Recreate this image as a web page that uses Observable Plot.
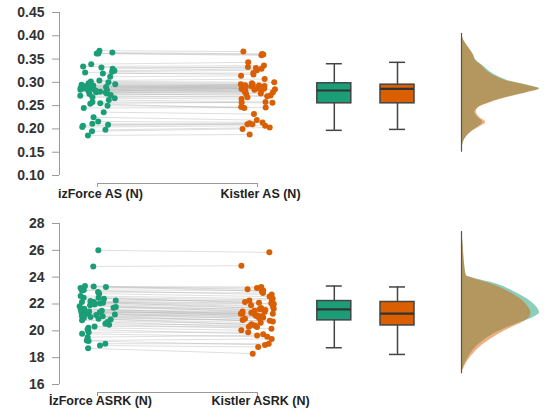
<!DOCTYPE html>
<html><head><meta charset="utf-8">
<script src="https://cdn.jsdelivr.net/npm/d3@7"></script>
<script src="https://cdn.jsdelivr.net/npm/@observablehq/plot@0.6"></script>
<style>html,body{margin:0;padding:0;background:#fff;} #chart svg{display:block;}</style>
</head><body><div id="chart"></div>
<script>
// ---------- DATA ----------
const labelsTop = ["izForce AS (N)", "Kistler AS (N)"];
const labelsBottom = ["İzForce ASRK (N)", "Kistler ASRK (N)"];
const ticksTop = [0.10, 0.15, 0.20, 0.25, 0.30, 0.35, 0.40, 0.45];
const ticksBottom = [16, 18, 20, 22, 24, 26, 28];

// paired values (izForce, Kistler) – AS
const izForceAS = [0.186,0.195,0.198,0.204,0.207,0.209,0.211,0.216,0.225,0.236,0.245,0.250,0.254,0.255,
  0.258,0.262,0.266,0.268,0.271,0.273,0.275,0.276,0.278,0.279,0.280,0.281,0.282,0.283,
  0.284,0.285,0.286,0.287,0.288,0.289,0.290,0.291,0.292,0.293,0.295,0.296,0.298,0.300,
  0.302,0.304,0.312,0.319,0.321,0.323,0.325,0.329,0.332,0.334,0.339,0.362,0.362,0.364,0.368];
const kistlerAS = [0.188,0.200,0.203,0.207,0.210,0.212,0.210,0.214,0.219,0.232,0.246,0.247,0.245,0.257,
  0.256,0.258,0.264,0.270,0.268,0.275,0.272,0.279,0.281,0.276,0.284,0.283,0.286,0.280,
  0.287,0.289,0.285,0.290,0.288,0.292,0.287,0.293,0.290,0.294,0.292,0.296,0.295,0.298,
  0.300,0.307,0.314,0.320,0.317,0.326,0.329,0.333,0.331,0.336,0.343,0.360,0.358,0.361,0.366];

// paired values – ASRK
const izForceASRK = [18.70,18.90,19.04,19.24,19.28,19.53,19.78,19.90,20.10,20.23,20.33,20.45,20.53,20.65,
  20.78,20.85,20.90,20.97,21.03,21.08,21.12,21.18,21.22,21.28,21.33,21.38,21.40,21.45,
  21.50,21.55,21.60,21.65,21.72,21.78,21.83,21.90,21.97,22.05,22.10,22.15,22.15,22.22,
  22.27,22.40,22.47,22.47,22.60,22.77,22.90,23.00,23.05,23.20,23.27,23.30,23.34,24.80,26.00];
const kistlerASRK = [18.30,18.80,19.04,18.95,19.40,19.66,19.55,19.90,19.75,20.05,20.28,20.15,20.40,20.30,
  20.50,20.60,20.45,20.75,20.80,20.70,20.95,21.08,20.90,21.15,21.00,21.28,21.20,21.30,
  21.10,21.35,21.40,21.28,21.50,21.45,21.60,21.55,21.70,21.80,21.65,22.00,21.90,22.05,
  22.27,22.10,22.15,22.30,22.40,22.55,22.82,22.70,23.00,23.20,22.95,23.27,23.10,24.85,25.85];

// box statistics [lower whisker, Q1, median, Q3, upper whisker]
const boxIzForceAS = [0.197, 0.255, 0.2825, 0.298, 0.340];
const boxKistlerAS = [0.199, 0.255, 0.286, 0.295, 0.343];
const boxIzForceASRK = [18.74, 20.78, 21.60, 22.22, 23.34];
const boxKistlerASRK = [18.24, 20.40, 21.28, 22.15, 23.27];

// density profiles (relative density at each level)
const densLevelsAS = [0.405,0.39,0.375,0.36,0.347,0.336,0.325,0.315,0.304,0.293,0.286,0.279,0.268,0.257,0.247,0.236,0.225,0.214,0.204,0.193,0.179,0.165,0.15];
const densIzForceAS = [0,0.03,0.09,0.15,0.19,0.27,0.35,0.44,0.59,0.86,1.00,0.85,0.58,0.36,0.22,0.17,0.21,0.27,0.21,0.12,0.045,0.013,0];
const densKistlerAS = [0,0.03,0.09,0.15,0.18,0.26,0.32,0.41,0.56,0.85,0.99,0.86,0.60,0.38,0.23,0.19,0.23,0.31,0.23,0.12,0.045,0.013,0];
const densLevelsASRK = [27.4,26.9,25.9,24.9,24.1,23.9,23.5,22.9,22.27,21.65,21.35,21.0,20.65,20.16,19.66,19.04,18.41,17.92,17.4,16.8];
const densIzForceASRK = [0,0.013,0.026,0.04,0.065,0.17,0.45,0.68,0.87,0.98,1.00,0.92,0.77,0.55,0.38,0.23,0.13,0.077,0.032,0];
const densKistlerASRK = [0,0.013,0.026,0.04,0.06,0.15,0.38,0.61,0.78,0.87,0.89,0.87,0.79,0.61,0.45,0.29,0.17,0.10,0.045,0];

// ---------- DRAWING ----------
const GREEN = "#1b9e77", ORANGE = "#d95f02";
const FONT = "'Liberation Sans', Arial, Helvetica, sans-serif";

function panel(cfg) {
  const {yDomain, ticks, fmt, labels, g, o, boxG, boxO, dv, dg, dO, height, mt, mb, seed, labelDy} = cfg;
  const pxPerUnit = 160;
  const xDom = [1 - 38 / pxPerUnit, 1 + 447 / pxPerUnit];
  const rand = d3.randomLcg(seed);
  const rows = g.map((v, i) => ({g: v, o: o[i], jg: (rand() * 2 - 1) * 0.115, jo: (rand() * 2 - 1) * 0.11}));
  const plotH = height - mt - mb;
  const uPerPx = (yDomain[1] - yDomain[0]) / plotH;
  const hw = 17 / pxPerUnit, cw = 8 / pxPerUnit;
  const cG = 2.48, cO = 2.875;
  const base = 1 + (461 - 97) / pxPerUnit;
  const dScale = 78 / pxPerUnit;
  const dens = dv.map((v, i) => ({v, g: dg[i], o: dO[i]}));
  const boxMarks = (c, s, fill) => [
    Plot.ruleX([c], {y1: s[0], y2: s[1], stroke: "#444", strokeWidth: 1.5}),
    Plot.ruleX([c], {y1: s[3], y2: s[4], stroke: "#444", strokeWidth: 1.5}),
    Plot.ruleY([s[0]], {x1: c - cw, x2: c + cw, stroke: "#444", strokeWidth: 1.5}),
    Plot.ruleY([s[4]], {x1: c - cw, x2: c + cw, stroke: "#444", strokeWidth: 1.5}),
    Plot.rect([s], {x1: c - hw, x2: c + hw, y1: d => d[1], y2: d => d[3], fill, stroke: "#444", strokeWidth: 1.5}),
    Plot.ruleY([s[2]], {x1: c - hw, x2: c + hw, stroke: "#333", strokeWidth: 2.2})
  ];
  return Plot.plot({
    width: 544, height,
    marginLeft: 59, marginRight: 0, marginTop: mt, marginBottom: mb,
    x: {domain: xDom, axis: null},
    y: {domain: yDomain},
    style: {fontFamily: FONT, background: "#fff", fontWeight: "bold"},
    marks: [
      Plot.ruleX([xDom[0]], {y1: yDomain[0], y2: yDomain[1], stroke: "#999", strokeWidth: 1}),
      Plot.axisY({ticks, tickFormat: fmt, tickSize: 7, tickPadding: 8, stroke: "#999", fill: "#333", fontSize: 14, fontWeight: "bold"}),
      // bracket x-axis
      Plot.ruleY([yDomain[0]], {x1: 1, x2: 2, dy: 8, stroke: "#999"}),
      Plot.ruleX([1, 2], {y1: yDomain[0], y2: yDomain[0] - 4 * uPerPx, dy: 8, stroke: "#999"}),
      Plot.text(labels, {x: (d, i) => 1 + i, frameAnchor: "bottom", dy: labelDy, dx: 3, text: d => d, fontSize: 12.5, fontWeight: "bold", fill: "#222"}),
      // paired lines
      Plot.link(rows, {x1: d => 1 + d.jg, y1: "g", x2: d => 2 + d.jo, y2: "o", stroke: "#aaa", strokeOpacity: 0.55, strokeWidth: 0.7}),
      Plot.dot(rows, {x: d => 1 + d.jg, y: "g", r: 3, fill: GREEN}),
      Plot.dot(rows, {x: d => 2 + d.jo, y: "o", r: 3, fill: ORANGE}),
      ...boxMarks(cG, boxG, GREEN),
      ...boxMarks(cO, boxO, ORANGE),
      // half violins
      Plot.areaX(dens, {y: "v", x1: base, x2: d => base + d.g * dScale, fill: GREEN, fillOpacity: 0.5, curve: "monotone-y"}),
      Plot.areaX(dens, {y: "v", x1: base, x2: d => base + d.o * dScale, fill: ORANGE, fillOpacity: 0.5, curve: "monotone-y"}),
      Plot.ruleX([base], {y1: d3.min(dv), y2: d3.max(dv), stroke: "#555", strokeWidth: 1.2})
    ]
  });
}

const chart = document.getElementById("chart");
chart.append(panel({
  yDomain: [0.10, 0.45], ticks: ticksTop, fmt: d3.format(".2f"), labels: labelsTop,
  g: izForceAS, o: kistlerAS, boxG: boxIzForceAS, boxO: boxKistlerAS,
  dv: densLevelsAS, dg: densIzForceAS, dO: densKistlerAS,
  height: 208, mt: 12, mb: 33, seed: 11, labelDy: 22
}));
chart.append(panel({
  yDomain: [16, 28], ticks: ticksBottom, fmt: d3.format("d"), labels: labelsBottom,
  g: izForceASRK, o: kistlerASRK, boxG: boxIzForceASRK, boxO: boxKistlerASRK,
  dv: densLevelsASRK, dg: densIzForceASRK, dO: densKistlerASRK,
  height: 209, mt: 15, mb: 33, seed: 23, labelDy: 20
}));
</script></body></html>
